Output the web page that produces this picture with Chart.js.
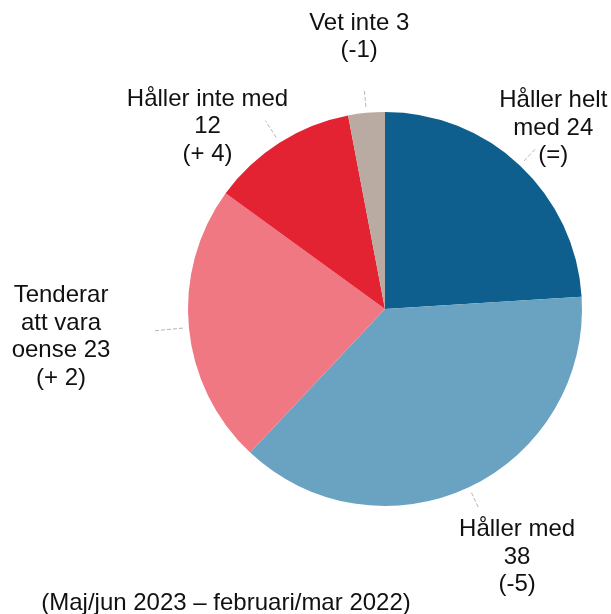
<!DOCTYPE html>
<html>
<head>
<meta charset="utf-8">
<script src="https://cdn.jsdelivr.net/npm/chart.js@4/dist/chart.umd.min.js"></script>
<style>
  html, body { margin: 0; padding: 0; background: #fff; }
  canvas { display: block; }
</style>
</head>
<body>
<canvas id="pie" width="611" height="614"></canvas>
<script>
// Data
const categories = ['Håller helt med', 'Håller med', 'Tenderar att vara oense', 'Håller inte med', 'Vet inte'];
const values = [24, 38, 23, 12, 3];
const changes = ['=', '-5', '+ 2', '+ 4', '-1'];
const colors = ['#0e5f8e', '#6aa2c2', '#ef7882', '#e32232', '#b9aba2'];
const footnote = '(Maj/jun 2023 – februari/mar 2022)';

// label text, wrapped like the original
const labelLines = [
    ['Håller helt', 'med ' + values[0], '(' + changes[0] + ')'],
    ['Håller med', String(values[1]), '(' + changes[1] + ')'],
    ['Tenderar', 'att vara', 'oense ' + values[2], '(' + changes[2] + ')'],
    ['Håller inte med', String(values[3]), '(' + changes[3] + ')'],
    ['Vet inte ' + values[4], '(' + changes[4] + ')']
];

// leader line length beyond the arc, and offset of text block from leader end
const leaderLen = [24, 24, 35, 26, 24];
const textOffset = [[17, -20], [38, 48], [-93, 6], [-58, 6], [-5, -52]];

const FONT = '24px "Liberation Sans", Arial, sans-serif';
const LINE_H = 27.5;

// labels + leaders drawn from the arc geometry
const pieLabels = {
    id: 'pieLabels',
    afterDraw(chart) {
        const ctx = chart.ctx;
        const meta = chart.getDatasetMeta(0);
        ctx.save();
        meta.data.forEach((arc, i) => {
            const p = arc.getProps(['x', 'y', 'startAngle', 'endAngle', 'outerRadius'], true);
            const mid = (p.startAngle + p.endAngle) / 2;
            const cx = Math.cos(mid), cy = Math.sin(mid);
            const r0 = p.outerRadius + 6;
            const r1 = p.outerRadius + leaderLen[i];
            ctx.strokeStyle = '#b5b5b5';
            ctx.lineWidth = 1;
            ctx.setLineDash([4, 2]);
            ctx.beginPath();
            ctx.moveTo(p.x + cx * r0, p.y + cy * r0);
            ctx.lineTo(p.x + cx * r1, p.y + cy * r1);
            ctx.stroke();

            const tx = p.x + cx * r1 + textOffset[i][0];
            const ty = p.y + cy * r1 + textOffset[i][1];
            const lines = labelLines[i];
            ctx.fillStyle = '#111';
            ctx.font = FONT;
            ctx.textAlign = 'center';
            ctx.textBaseline = 'middle';
            const top = ty - (lines.length - 1) * LINE_H / 2;
            lines.forEach((t, k) => ctx.fillText(t, tx, top + k * LINE_H));
        });
        // footnote
        ctx.font = FONT;
        ctx.fillStyle = '#111';
        ctx.textAlign = 'center';
        ctx.textBaseline = 'middle';
        ctx.fillText(footnote, 226, 603);
        ctx.restore();
    }
};

new Chart(document.getElementById('pie'), {
    type: 'pie',
    data: {
        labels: categories,
        datasets: [{
            data: values,
            backgroundColor: colors,
            borderWidth: 0
        }]
    },
    options: {
        responsive: false,
        animation: false,
        layout: { padding: { left: 188, right: 29, top: 112, bottom: 108 } },
        plugins: {
            legend: { display: false },
            tooltip: { enabled: false }
        }
    },
    plugins: [pieLabels]
});
</script>
</body>
</html>
